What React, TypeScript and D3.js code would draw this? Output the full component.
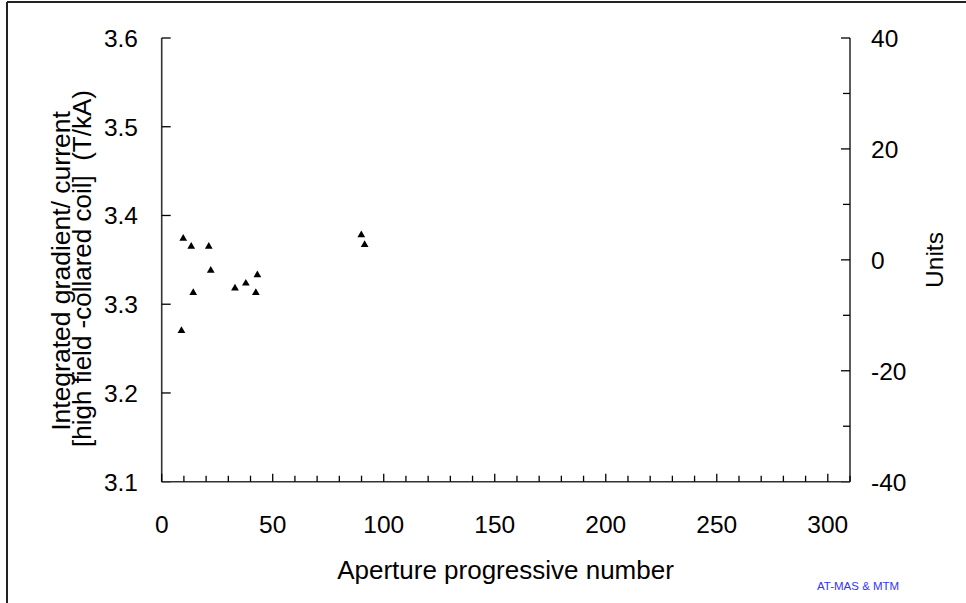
import React from "react";
import * as d3 from "d3";

const apertureNumber = [9.7, 13.3, 21.2, 22.1, 14.2, 33.0, 37.9, 43.1, 42.4, 8.9, 89.9, 91.4];
const gradientPerCurrent = [3.374, 3.365, 3.365, 3.338, 3.313, 3.318, 3.3235, 3.333, 3.313, 3.27, 3.378, 3.367];

const xTicks = [0, 50, 100, 150, 200, 250, 300];
const xMinorTicks = d3.range(0, 311, 10);
const yLeftTicks = [3.1, 3.2, 3.3, 3.4, 3.5, 3.6];
const yRightTicks = [-40, -20, 0, 20, 40];
const yRightMinor = d3.range(-40, 41, 10);

const W = 966;
const H = 603;
const M = { left: 161.7, right: 850, top: 38, bottom: 481.7 };
const FONT = "'Liberation Sans', Arial, sans-serif";

export default function App() {
  const x = d3.scaleLinear().domain([0, 310]).range([M.left, M.right]);
  const yL = d3.scaleLinear().domain([3.1, 3.6]).range([M.bottom, M.top]);
  const yR = d3.scaleLinear().domain([-40, 40]).range([M.bottom, M.top]);
  const tri = d3.symbol().type(d3.symbolTriangle).size(26)();
  const axisColor = "#333";

  return (
    <svg width={W} height={H} style={{ position: "absolute", left: 0, top: 0, background: "#fff" }} fontFamily={FONT}>
      <rect x={0} y={0} width={W} height={H} fill="#fff" />
      {/* outer frame */}
      <line x1={7} y1={2} x2={W} y2={2} stroke="#222" strokeWidth={2} />
      <line x1={7} y1={2} x2={7} y2={H} stroke="#222" strokeWidth={2} />

      {/* left axis */}
      <line x1={M.left} y1={M.top} x2={M.left} y2={M.bottom} stroke={axisColor} strokeWidth={1.6} />
      {yLeftTicks.map((t) => (
        <g key={"yl" + t}>
          <line x1={M.left} x2={M.left + 9} y1={yL(t)} y2={yL(t)} stroke="#000" strokeWidth={1.3} />
          <text x={138} y={yL(t)} dy="0.36em" textAnchor="end" fontSize={24.5} fill="#000">
            {d3.format(".1f")(t)}
          </text>
        </g>
      ))}

      {/* right axis */}
      <line x1={M.right} y1={M.top} x2={M.right} y2={M.bottom} stroke={axisColor} strokeWidth={1.6} />
      {yRightMinor.map((t) => (
        <line key={"yrm" + t} x1={M.right} x2={M.right - (t % 20 === 0 ? 9 : 7)} y1={yR(t)} y2={yR(t)} stroke="#000" strokeWidth={1.3} />
      ))}
      {yRightTicks.map((t) => (
        <text key={"yr" + t} x={871} y={yR(t)} dy="0.36em" textAnchor="start" fontSize={24.5} fill="#000">
          {t}
        </text>
      ))}

      {/* bottom axis */}
      <line x1={M.left} y1={M.bottom} x2={M.right} y2={M.bottom} stroke={axisColor} strokeWidth={1.6} />
      {xMinorTicks.map((t) => (
        <line key={"xm" + t} x1={x(t)} x2={x(t)} y1={M.bottom} y2={M.bottom - (t % 50 === 0 ? 8 : 6)} stroke="#000" strokeWidth={1.3} />
      ))}
      {xTicks.map((t) => (
        <text key={"xt" + t} x={x(t)} y={533} textAnchor="middle" fontSize={24.5} fill="#000">
          {t}
        </text>
      ))}

      {/* points */}
      {apertureNumber.map((v, i) => (
        <path key={"p" + i} d={tri} transform={`translate(${x(v)},${yL(gradientPerCurrent[i])})`} fill="#000" />
      ))}

      {/* axis titles */}
      <text x={505.5} y={579} textAnchor="middle" fontSize={26} fill="#000">
        Aperture progressive number
      </text>
      <text transform="translate(70,271) rotate(-90)" textAnchor="middle" fontSize={26.5} fill="#000">
        Integrated gradient/ current
      </text>
      <text transform="translate(91,268.5) rotate(-90)" textAnchor="middle" fontSize={26} fill="#000" style={{ whiteSpace: "pre" }}>
        {"[high field -collared coil]  (T/kA)"}
      </text>
      <text transform="translate(943,260) rotate(-90)" textAnchor="middle" fontSize={24.5} fill="#000">
        Units
      </text>

      <text x={817} y={590} fontSize={11.5} fill="#3333ff">
        AT-MAS &amp; MTM
      </text>
    </svg>
  );
}
